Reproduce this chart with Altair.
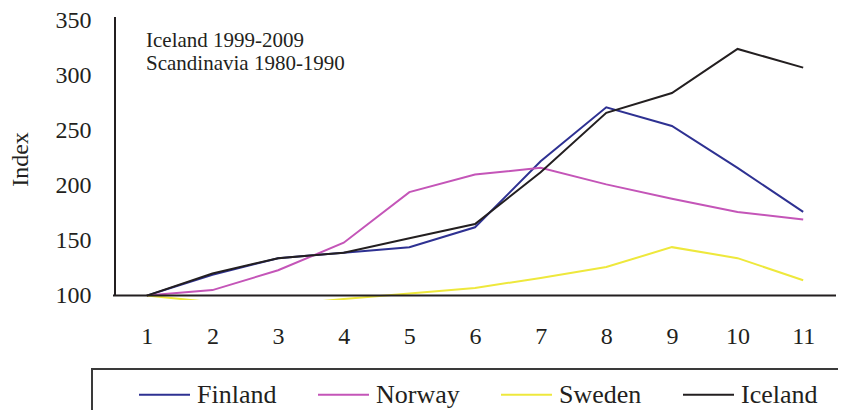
import altair as alt
import pandas as pd

periods = [1, 2, 3, 4, 5, 6, 7, 8, 9, 10, 11]
finland = [100, 119, 134, 139, 144, 162, 222, 271, 254, 216, 176]
norway = [100, 105, 123, 148, 194, 210, 216, 201, 188, 176, 169]
sweden = [100, 94, 91, 97, 102, 107, 116, 126, 144, 134, 114]
iceland = [100, 120, 134, 139, 152, 165, 212, 266, 284, 324, 307]
countries = ["Finland", "Norway", "Sweden", "Iceland"]
colors = ["#2e3192", "#c455b8", "#eee83c", "#231f20"]
y_ticks = [100, 150, 200, 250, 300, 350]
note_lines = ["Iceland 1999-2009", "Scandinavia 1980-1990"]

rows = []
for name, vals in zip(countries, [finland, norway, sweden, iceland]):
    for p, v in zip(periods, vals):
        rows.append({"period": p, "index": v, "country": name})
df = pd.DataFrame(rows)
one = pd.DataFrame({"k": [0]})

FONT = "Liberation Serif"
W, H = 722, 283

xscale = alt.Scale(domain=[0.5, 11.5], nice=False, zero=False)
yscale = alt.Scale(domain=[96, 353], nice=False, zero=False)

lines = alt.Chart(df).mark_line(strokeWidth=2, clip=True).encode(
    x=alt.X("period:Q", scale=xscale,
            axis=alt.Axis(values=periods, domain=False, ticks=False, grid=False,
                          labelBaseline="middle", labelPadding=36, title=None,
                          labelFont=FONT, labelFontSize=24, labelColor="#231f20")),
    y=alt.Y("index:Q", scale=yscale,
            axis=alt.Axis(values=y_ticks, domain=False, ticks=False, grid=False,
                          labelPadding=23, labelFont=FONT, labelFontSize=24,
                          labelColor="#231f20", title="Index", titleFont=FONT,
                          titleFontSize=24, titleFontWeight="normal", titleColor="#231f20",
                          titleX=-94, titleY=142, titleAngle=270, titleAlign="center",
                          titleBaseline="middle")),
    color=alt.Color("country:N", sort=countries,
                    scale=alt.Scale(domain=countries, range=colors),
                    legend=alt.Legend(orient="none", legendX=24, legendY=351,
                                      direction="horizontal", columns=4, columnPadding=37,
                                      symbolType="stroke", symbolSize=2601,
                                      symbolStrokeWidth=2, labelFontSize=26,
                                      labelFont=FONT, labelColor="#231f20",
                                      labelOffset=6, padding=0, title=None)),
    order=alt.Order("period:Q"),
)

yline = alt.Chart(one).mark_rule(color="#231f20", strokeWidth=2).encode(
    x=alt.value(1), y=alt.datum(100, scale=yscale), y2=alt.value(0)
)
xline = alt.Chart(one).mark_rule(color="#231f20", strokeWidth=2).encode(
    y=alt.datum(100, scale=yscale), x=alt.value(-1), x2=alt.value(W)
)

note1 = alt.Chart(one).mark_text(text=note_lines[0], align="left", baseline="middle",
                                 font=FONT, fontSize=21, color="#231f20").encode(
    x=alt.value(32), y=alt.value(24))
note2 = alt.Chart(one).mark_text(text=note_lines[1], align="left", baseline="middle",
                                 font=FONT, fontSize=21, color="#231f20").encode(
    x=alt.value(32), y=alt.value(47))

box = alt.Chart(one).mark_rect(filled=False, stroke="#3a3a3a", strokeWidth=2).encode(
    x=alt.value(-22), x2=alt.value(780), y=alt.value(352), y2=alt.value(440)
)

chart = alt.layer(box, lines, yline, xline, note1, note2).properties(
    width=W, height=H,
    autosize=alt.AutoSizeParams(type="none"),
    padding={"left": 106, "top": 9, "right": 2, "bottom": 110},
).configure_view(strokeWidth=0)

chart.save("out.html", embed_options={"renderer": "svg", "actions": False})
